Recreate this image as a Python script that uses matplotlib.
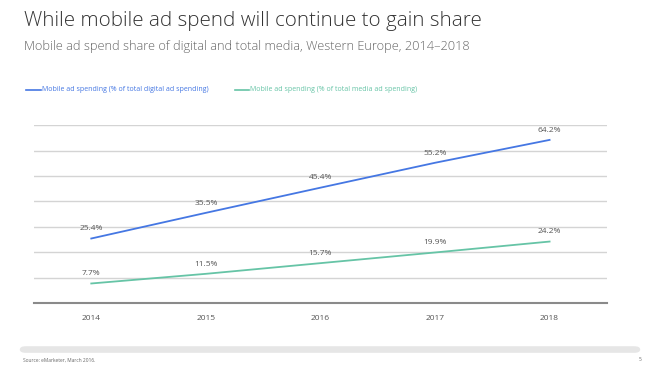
import matplotlib.pyplot as plt
from matplotlib.patches import FancyBboxPatch

years = ['2014', '2015', '2016', '2017', '2018']
digital_share = [25.4, 35.5, 45.4, 55.2, 64.2]
media_share = [7.7, 11.5, 15.7, 19.9, 24.2]

blue = '#4577e3'
teal = '#66c4a6'
grey_txt = '#555555'

plt.rcParams['font.family'] = ['Open Sans', 'DejaVu Sans']

fig = plt.figure(figsize=(6.6, 3.66), dpi=100)
ax = fig.add_axes([0.0515, 0.172, 0.868, 0.486])

x = range(len(years))
ax.plot(x, digital_share, color=blue, lw=1.3)
ax.plot(x, media_share, color=teal, lw=1.3)

for i, v in enumerate(digital_share):
    ax.annotate(f'{v}%', (i, v), xytext=(0, 4.5), textcoords='offset points',
                ha='center', va='bottom', fontsize=6, color=grey_txt)
for i, v in enumerate(media_share):
    ax.annotate(f'{v}%', (i, v), xytext=(0, 4.5), textcoords='offset points',
                ha='center', va='bottom', fontsize=6, color=grey_txt)

ax.set_xlim(-0.5, 4.5)
ax.set_ylim(0, 70)
ax.set_yticks(range(10, 71, 10))
ax.yaxis.grid(True, color='#d4d4d4', lw=1)
ax.set_axisbelow(True)
ax.tick_params(axis='y', left=False, labelleft=False)
ax.set_xticks(list(x))
ax.set_xticklabels(years)
ax.tick_params(axis='x', bottom=False, labelsize=6, colors=grey_txt, pad=5)
for s in ['top', 'right', 'left']:
    ax.spines[s].set_visible(False)
ax.spines['bottom'].set_color('#8a8a8a')
ax.spines['bottom'].set_linewidth(1.5)

fig.text(0.036, 0.943, 'While mobile ad spend will continue to gain share',
         fontsize=14.8, color='#333333', va='center', fontweight='light')
fig.text(0.036, 0.873, 'Mobile ad spend share of digital and total media, Western Europe, 2014\u20132018',
         fontsize=9.2, color='#666666', va='center', fontweight='light')

# legend
ly = 0.755
fig.lines.append(plt.Line2D([0.04, 0.062], [ly, ly], color=blue, lw=1.2, transform=fig.transFigure))
fig.text(0.063, ly, 'Mobile ad spending (% of total digital ad spending)', fontsize=5,
         color=blue, va='center')
fig.lines.append(plt.Line2D([0.356, 0.378], [ly, ly], color=teal, lw=1.2, transform=fig.transFigure))
fig.text(0.379, ly, 'Mobile ad spending (% of total media ad spending)', fontsize=5,
         color=teal, va='center')

# bottom bar
bar = FancyBboxPatch((0.03, 0.036), 0.94, 0.018, boxstyle='round,pad=0,rounding_size=0.009',
                     transform=fig.transFigure, facecolor='#e6e6e6', edgecolor='none')
fig.patches.append(bar)
fig.text(0.035, 0.017, 'Source: eMarketer, March 2016.', fontsize=3.5, color='#666666', va='center')
fig.text(0.968, 0.017, '5', fontsize=3.5, color='#666666', va='center')

fig.savefig('out.png', dpi=100)
